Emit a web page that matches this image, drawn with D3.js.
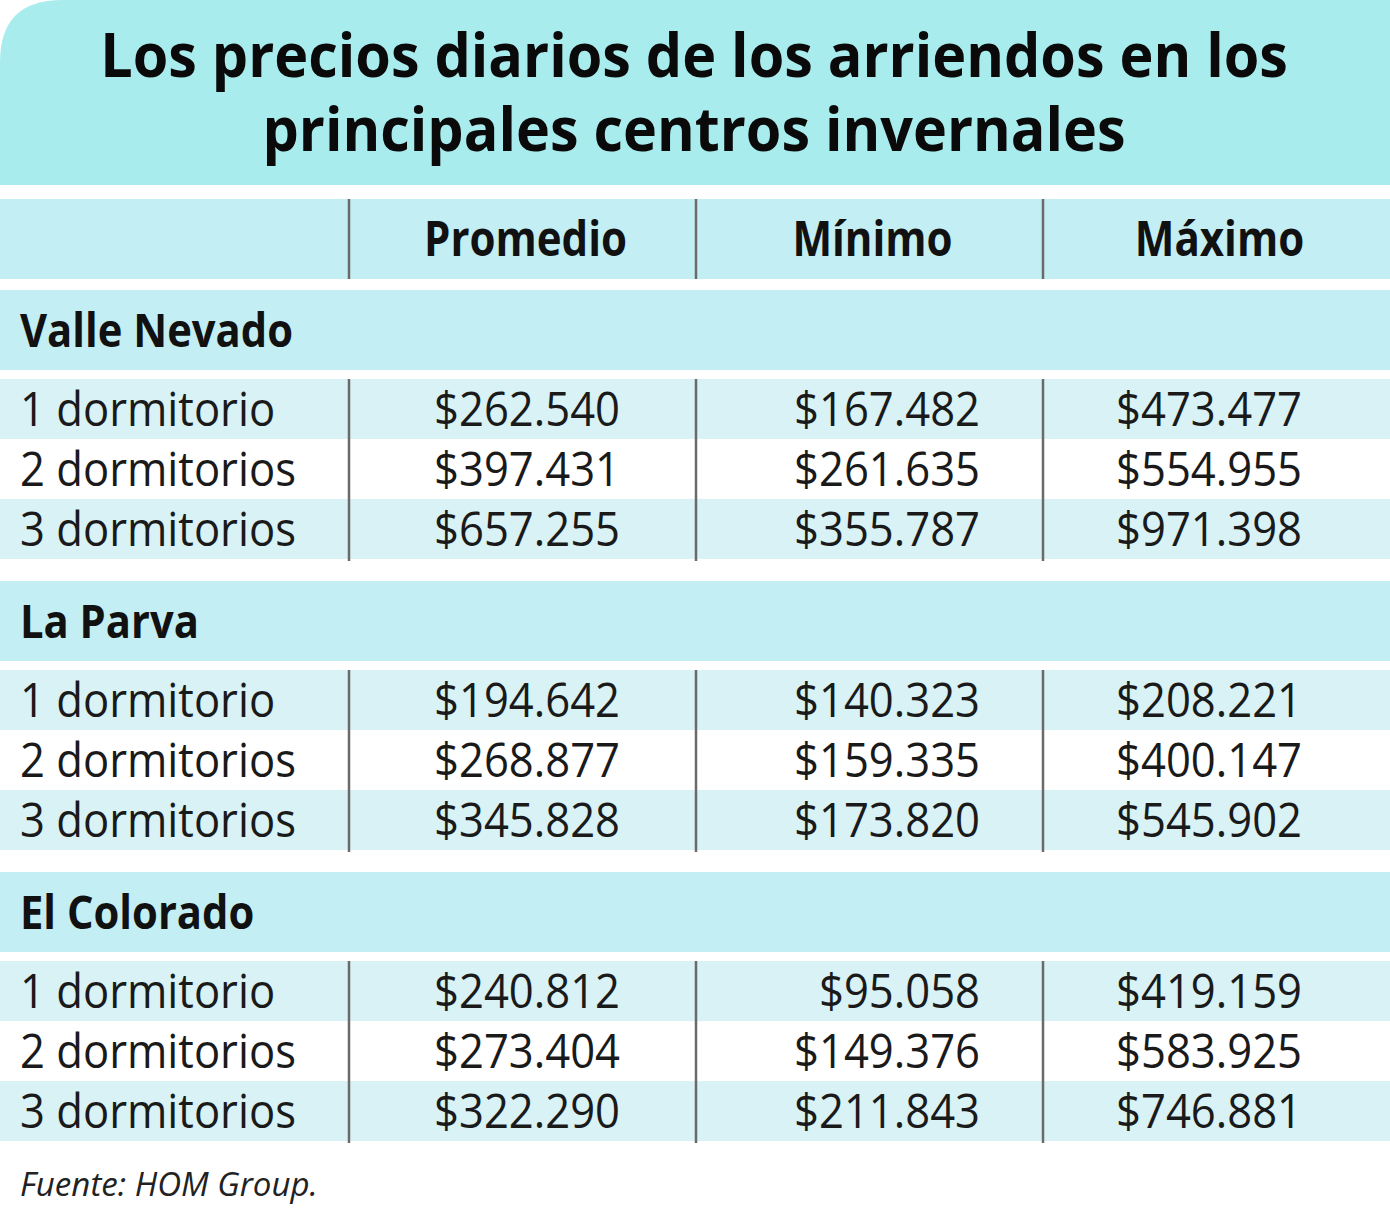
<!DOCTYPE html>
<html><head><meta charset="utf-8">
<script src="https://cdn.jsdelivr.net/npm/d3@7"></script>
<style>html,body{margin:0;padding:0;background:#fff;}svg{display:block;}</style>
</head><body>
<script>
// ---- data ----
const titleLines = ["Los precios diarios de los arriendos en los", "principales centros invernales"];
const columns = ["Promedio", "Mínimo", "Máximo"];
const centers = ["Valle Nevado", "La Parva", "El Colorado"];
const rowLabels = ["1 dormitorio", "2 dormitorios", "3 dormitorios"];
const promedio = [
  ["$262.540", "$397.431", "$657.255"],
  ["$194.642", "$268.877", "$345.828"],
  ["$240.812", "$273.404", "$322.290"]
];
const minimo = [
  ["$167.482", "$261.635", "$355.787"],
  ["$140.323", "$159.335", "$173.820"],
  ["$95.058", "$149.376", "$211.843"]
];
const maximo = [
  ["$473.477", "$554.955", "$971.398"],
  ["$208.221", "$400.147", "$545.902"],
  ["$419.159", "$583.925", "$746.881"]
];
const source = "Fuente: HOM Group.";

// ---- layout ----
const W = 1390, H = 1212;
const FONT = "'Open Sans', 'Noto Sans', sans-serif";
const svg = d3.select("body").append("svg").attr("width", W).attr("height", H);

const colEdges = [0, 349, 696, 1043, 1390];
const colLeft = i => colEdges[i];
const colRight = i => colEdges[i + 1];

const measurer = svg.append("text").attr("font-family", FONT).attr("visibility", "hidden");
function fitScale(str, size, weight, style, target) {
  measurer.attr("font-size", size).attr("font-weight", weight).attr("font-style", style).text(str);
  const w = measurer.node().getComputedTextLength();
  return target / w;
}

const cTitle = "#a9ecee", cHead = "#c3eef3", cLight = "#d8f2f5", cLine = "#6a6a6a";

// title box with rounded top-left corner
const r = 62, tb = 185;
svg.append("path")
  .attr("d", `M0,${tb} L0,${r} Q0,0 ${r},0 L${W},0 L${W},${tb} Z`)
  .attr("fill", cTitle);

const sTitle = fitScale(titleLines[0], 60, 700, "normal", 1188);
const title = svg.append("text")
  .attr("transform", `translate(694,77) scale(${sTitle},1)`)
  .attr("text-anchor", "middle").attr("font-family", FONT)
  .attr("font-weight", 700).attr("font-size", 60).attr("fill", "#0a0a0a");
titleLines.forEach((t, i) => {
  title.append("tspan").attr("x", 0).attr("y", i * 74).text(t);
});

// vertical structure
const headTop = 199, bandH = 80;
const gapAfterHead = 11, gapAfterSection = 9, rowH = 60, groupGap = 22;
const cellSize = 47;

// header row
svg.append("rect").attr("x", 0).attr("y", headTop).attr("width", W).attr("height", bandH).attr("fill", cHead);
const sHead = fitScale("Promedio", 48, 700, "normal", 203);
columns.forEach((c, i) => {
  const cx = (colLeft(i + 1) + colRight(i + 1)) / 2 + 3;
  svg.append("text")
    .attr("transform", `translate(${cx},${headTop + bandH / 2 + 17}) scale(${sHead},1)`)
    .attr("text-anchor", "middle").attr("font-family", FONT)
    .attr("font-weight", 700).attr("font-size", 48).attr("fill", "#111")
    .text(c);
});
[1, 2, 3].forEach(i => {
  svg.append("line").attr("x1", colEdges[i]).attr("x2", colEdges[i])
    .attr("y1", headTop).attr("y2", headTop + bandH)
    .attr("stroke", cLine).attr("stroke-width", 2.5);
});

const sSection = fitScale("Valle Nevado", 46, 700, "normal", 273);
const sCell = fitScale("$262.540", cellSize, 400, "normal", 186);
const valueRight = [620, 980, 1302];
const valueSets = [promedio, minimo, maximo];

let y = headTop + bandH + gapAfterHead;
centers.forEach((name, g) => {
  svg.append("rect").attr("x", 0).attr("y", y).attr("width", W).attr("height", bandH).attr("fill", cHead);
  svg.append("text")
    .attr("transform", `translate(20,${y + bandH / 2 + 17}) scale(${sSection},1)`)
    .attr("font-family", FONT).attr("font-weight", 700).attr("font-size", 46).attr("fill", "#111")
    .text(name);
  y += bandH + gapAfterSection;
  const rowsTop = y;
  const yRow = d3.scaleBand().domain(d3.range(rowLabels.length)).range([rowsTop, rowsTop + rowH * rowLabels.length]);
  rowLabels.forEach((lab, k) => {
    const ry = yRow(k);
    svg.append("rect").attr("x", 0).attr("y", ry).attr("width", W).attr("height", yRow.bandwidth())
      .attr("fill", k % 2 === 0 ? cLight : "#ffffff");
    const base = ry + yRow.bandwidth() / 2 + 17;
    svg.append("text")
      .attr("transform", `translate(20,${base}) scale(${sCell},1)`)
      .attr("font-family", FONT).attr("font-size", cellSize).attr("fill", "#1a1a1a")
      .text(lab);
    valueSets.forEach((vs, c) => {
      svg.append("text")
        .attr("transform", `translate(${valueRight[c]},${base}) scale(${sCell},1)`)
        .attr("text-anchor", "end")
        .attr("font-family", FONT).attr("font-size", cellSize).attr("fill", "#1a1a1a")
        .text(vs[g][k]);
    });
  });
  const rowsBottom = rowsTop + rowH * rowLabels.length;
  [1, 2, 3].forEach(i => {
    svg.append("line").attr("x1", colEdges[i]).attr("x2", colEdges[i])
      .attr("y1", rowsTop).attr("y2", rowsBottom + 2)
      .attr("stroke", cLine).attr("stroke-width", 2.5);
  });
  y = rowsBottom + groupGap;
});

const sSrc = fitScale(source, 32, 400, "italic", 298);
svg.append("text")
  .attr("transform", `translate(20,1196) scale(${sSrc},1)`)
  .attr("font-family", FONT).attr("font-style", "italic").attr("font-size", 32).attr("fill", "#222")
  .text(source);
measurer.remove();
</script>
</body></html>
